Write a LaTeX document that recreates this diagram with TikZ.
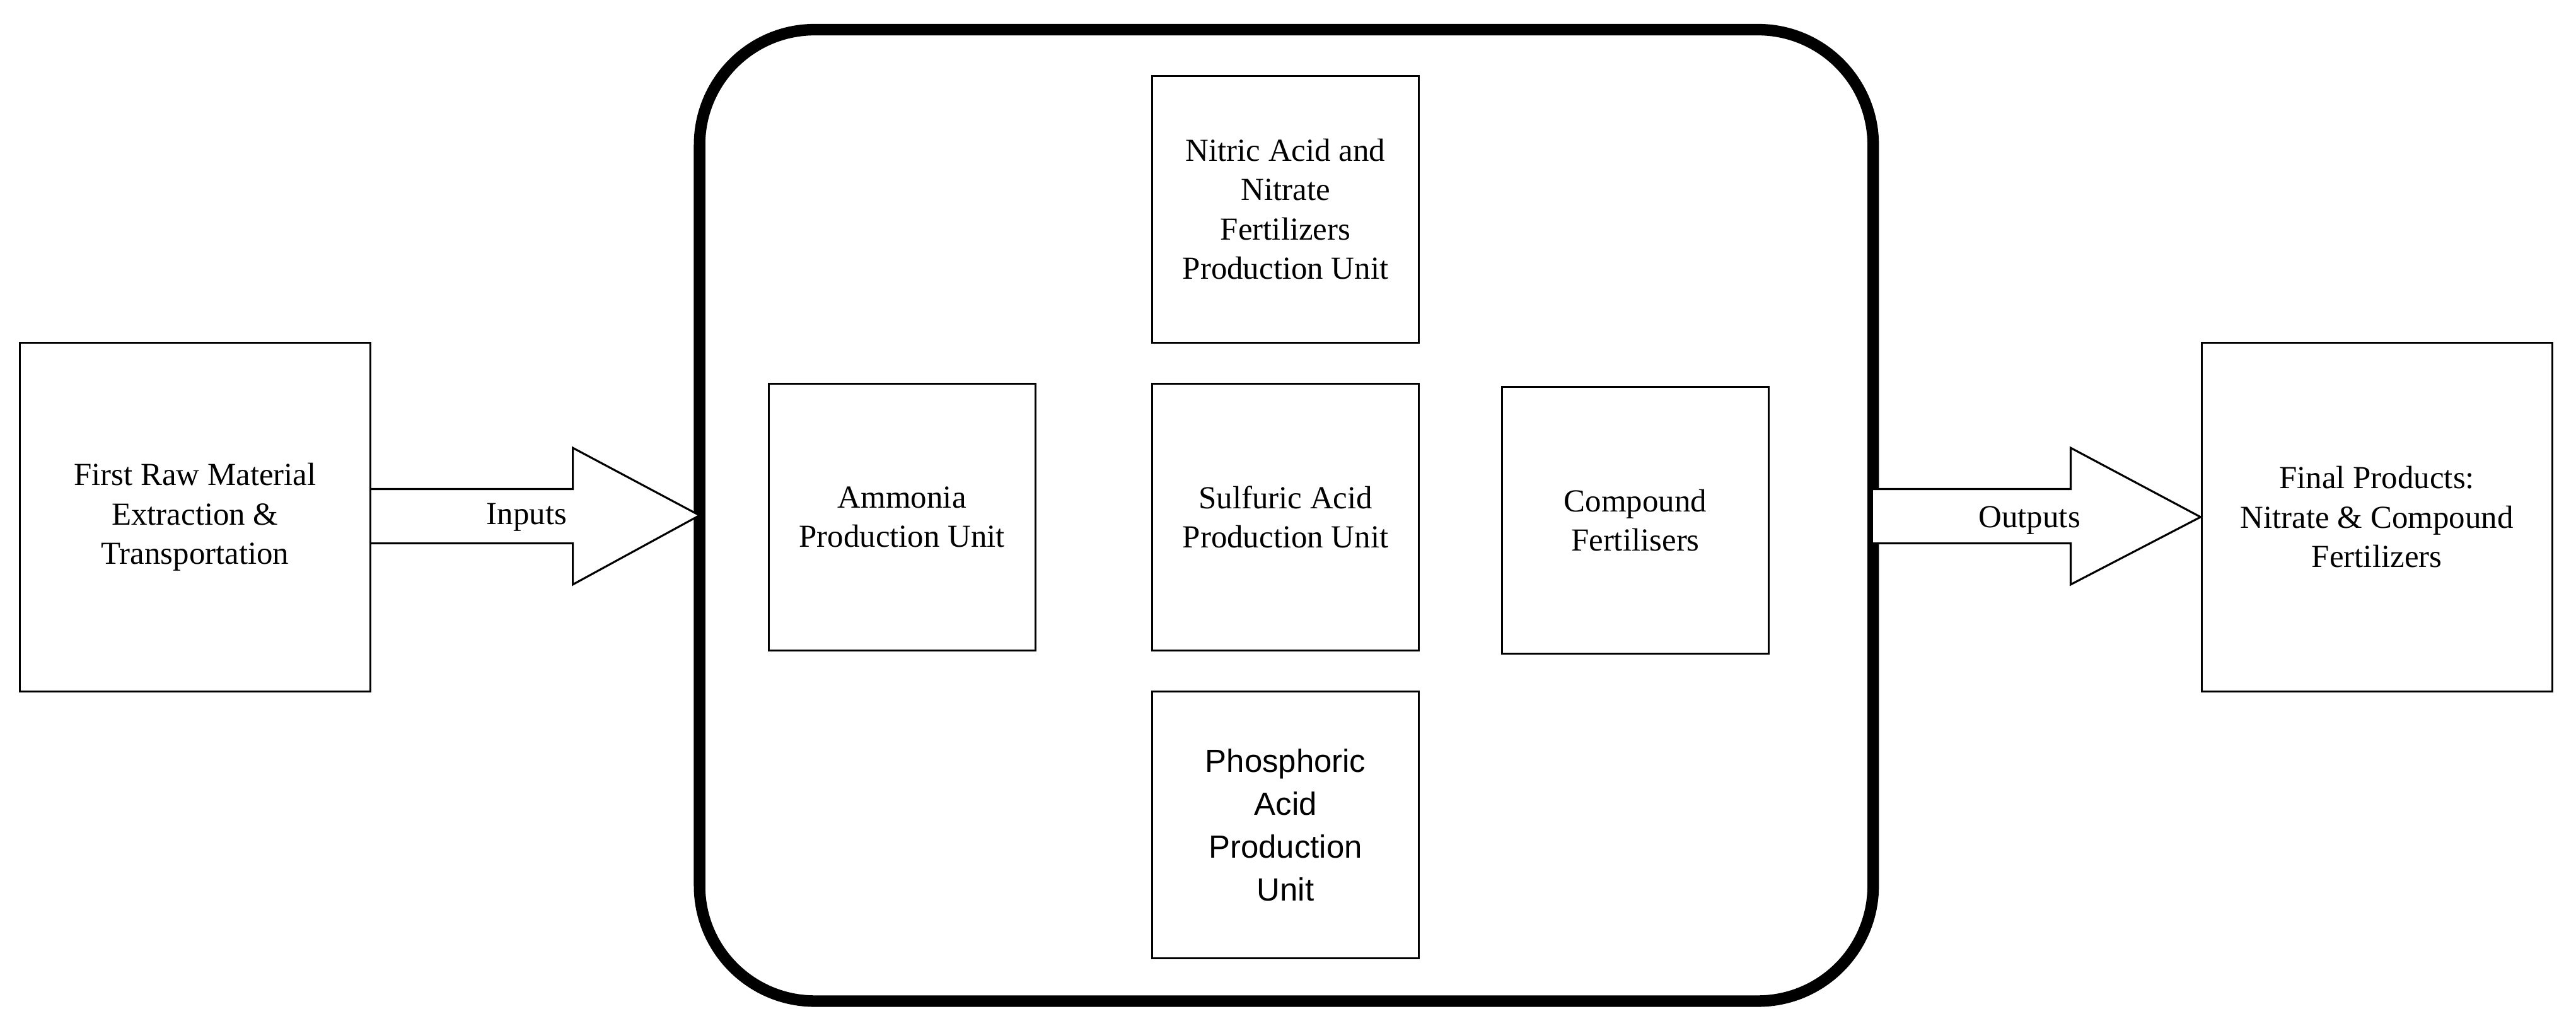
\documentclass[tikz,border=0pt]{standalone}
\usepackage{fontspec}
\setmainfont{Liberation Serif}
\newfontfamily\helv{Liberation Sans}
\begin{document}
\begin{tikzpicture}[x=1pt,y=-1pt,
  unit/.style={draw,line width=1.2pt,minimum width=162pt,minimum height=162pt,align=center,font=\fontsize{19.5}{24}\selectfont,inner sep=2pt},
  sidebox/.style={draw,line width=1.2pt,minimum width=213pt,minimum height=212pt,align=center,font=\fontsize{19.5}{24}\selectfont},
  fatarrow/.style={draw,line width=1.2pt,fill=white,line join=miter},
  lbl/.style={font=\fontsize{19.5}{24}\selectfont}]
\useasboundingbox (0,0) rectangle (1565,627);
\draw[line width=7pt,rounded corners=70pt] (425,18) rectangle (1138,608);
\node[sidebox] (raw) at (118.5,314) {First Raw Material\\Extraction \&\\Transportation};
\node[sidebox] (fin) at (1444,314) {Final Products:\\Nitrate \& Compound\\Fertilizers};
\node[unit] (nit) at (781,127) {Nitric Acid and\\Nitrate\\Fertilizers\\Production Unit};
\node[unit] (amm) at (548,314) {Ammonia\\Production Unit};
\node[unit] (sul) at (781,314) {Sulfuric Acid\\Production Unit};
\node[unit] (com) at (993.5,316) {Compound\\Fertilisers};
\node[unit,font=\helv\fontsize{19.5}{26}\selectfont] (pho) at (781,501) {Phosphoric\\Acid\\Production\\Unit};
\draw[fatarrow] (raw.east |- 0,297) -- (348,297) -- (348,272) -- (425,313) -- (348,355) -- (348,330) -- (raw.east |- 0,330);
\node[lbl] (inp) at (320,314) {Inputs};
\draw[fatarrow] (1138,297) -- (1258,297) -- (1258,272) -- (fin.west) -- (1258,355) -- (1258,330) -- (1138,330);
\node[lbl] (outp) at (1233,316) {Outputs};
\end{tikzpicture}
\end{document}
